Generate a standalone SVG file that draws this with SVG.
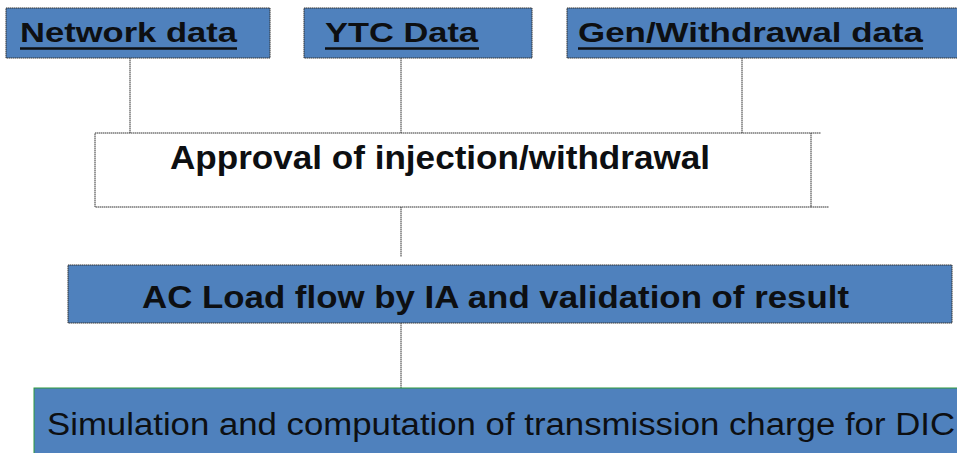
<svg xmlns="http://www.w3.org/2000/svg" width="957" height="453" viewBox="0 0 957 453">
  <style>
    .blue { fill: #4f81bd; stroke: #333; stroke-width: 1; stroke-dasharray: 1.5 0.5; }
    .white { fill: #ffffff; stroke: #333; stroke-width: 1; stroke-dasharray: 1.5 0.5; }
    .edge { fill: none; stroke: #333; stroke-width: 1; stroke-dasharray: 1.5 0.5; }
    .lbl { font-family: "Liberation Sans", Arial, sans-serif; fill: #0d0f12; }
    .b { font-weight: bold; }
    .ul { stroke: #0d0f12; stroke-width: 2.5; }
  </style>

  <!-- connectors -->
  <g id="connectors">
    <line class="edge" x1="130" y1="58" x2="130" y2="133"/>
    <line class="edge" x1="401" y1="58" x2="401" y2="133"/>
    <line class="edge" x1="742" y1="58" x2="742" y2="133"/>
    <line class="edge" x1="401" y1="207" x2="401" y2="257"/>
    <line class="edge" x1="401" y1="323" x2="401" y2="388"/>
  </g>

  <!-- input data boxes -->
  <g id="network-data">
    <rect class="blue" x="6" y="8" width="264" height="50"/>
    <text class="lbl b" x="20" y="42" font-size="28" textLength="217" lengthAdjust="spacingAndGlyphs">Network data</text>
    <line class="ul" x1="20" y1="48.5" x2="237" y2="48.5"/>
  </g>

  <g id="ytc-data">
    <rect class="blue" x="304" y="8" width="228" height="50"/>
    <text class="lbl b" x="325" y="42" font-size="28" textLength="153" lengthAdjust="spacingAndGlyphs">YTC Data</text>
    <line class="ul" x1="325" y1="48.5" x2="479" y2="48.5"/>
  </g>

  <g id="gen-withdrawal-data">
    <rect class="blue" x="567" y="8" width="395" height="50"/>
    <text class="lbl b" x="578" y="42" font-size="28" textLength="345" lengthAdjust="spacingAndGlyphs">Gen/Withdrawal data</text>
    <line class="ul" x1="578" y1="48.5" x2="923" y2="48.5"/>
  </g>

  <!-- approval step -->
  <g id="approval">
    <rect class="white" x="95" y="133" width="716" height="74"/>
    <line class="edge" x1="811" y1="133" x2="821" y2="133"/>
    <line class="edge" x1="811" y1="207" x2="829" y2="207"/>
    <text class="lbl b" x="170" y="169" font-size="33" textLength="540" lengthAdjust="spacingAndGlyphs">Approval of injection/withdrawal</text>
  </g>

  <!-- load flow step -->
  <g id="ac-load-flow">
    <rect class="blue" x="68" y="265" width="884" height="58"/>
    <text class="lbl b" x="142" y="308" font-size="31" textLength="707" lengthAdjust="spacingAndGlyphs">AC Load flow by IA and validation of result</text>
  </g>

  <!-- final computation -->
  <g id="simulation">
    <rect x="34" y="388" width="930" height="80" fill="#4f81bd" stroke="#2e9a3e" stroke-width="1"/>
    <text class="lbl" x="47" y="435" font-size="31" textLength="908" lengthAdjust="spacingAndGlyphs">Simulation and computation of transmission charge for DIC</text>
  </g>
</svg>
